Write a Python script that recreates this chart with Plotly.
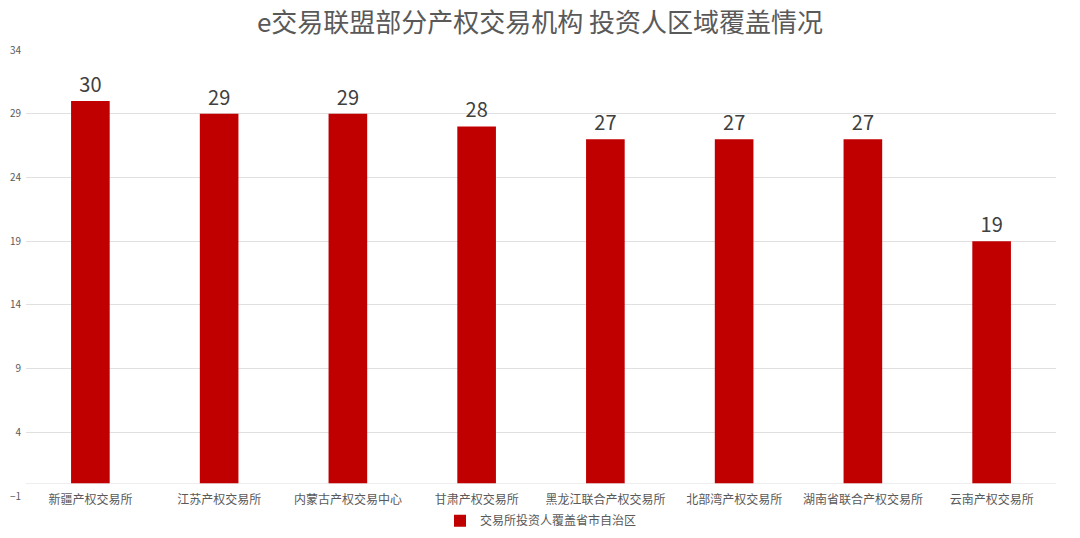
import plotly.graph_objects as go

categories = ["新疆产权交易所", "江苏产权交易所", "内蒙古产权交易中心", "甘肃产权交易所",
              "黑龙江联合产权交易所", "北部湾产权交易所", "湖南省联合产权交易所", "云南产权交易所"]
values = [30, 29, 29, 28, 27, 27, 27, 19]
series_name = "交易所投资人覆盖省市自治区"
tick_vals = [-1, 4, 9, 14, 19, 24, 29, 34]
title_text = "e交易联盟部分产权交易机构 投资人区域覆盖情况"

font_cjk = "Noto Sans CJK SC, Noto Sans, sans-serif"

fig = go.Figure()
fig.add_trace(go.Bar(
    x=categories, y=values, name=series_name,
    marker=dict(color="#c00000", line=dict(width=0)),
    width=0.30,
    text=[str(v) for v in values], textposition="outside",
    textfont=dict(size=20, color="#404040", family=font_cjk),
    cliponaxis=False,
))

fig.update_layout(
    width=1080, height=538,
    paper_bgcolor="white", plot_bgcolor="white",
    margin=dict(l=26, r=24, t=50, b=42, autoexpand=False),
    title=dict(text=title_text, x=0.5, xanchor="center", y=0.958, yanchor="middle",
               font=dict(size=26, color="#595959", family=font_cjk)),
    showlegend=True,
    legend=dict(orientation="h", x=0.5, xanchor="center", yref="container",
                y=0.032, yanchor="middle", bgcolor="rgba(0,0,0,0)",
                font=dict(size=12, color="#595959", family=font_cjk),
                itemwidth=30),
    xaxis=dict(showgrid=False, showline=False, ticks="", automargin=False,
               ticklabelstandoff=-5,
               tickfont=dict(size=12, color="#595959", family=font_cjk)),
    yaxis=dict(range=[-1, 34], tickvals=tick_vals, showgrid=True, gridcolor="#e0e0e0",
               gridwidth=1, zeroline=True, zerolinecolor="#eeeeee", zerolinewidth=1,
               showline=False, ticks="", automargin=False, ticklabelstandoff=4,
               tickfont=dict(size=10, color="#595959", family=font_cjk)),
)

fig.write_html("out.html", config={"displayModeBar": False},
               post_script="document.body.style.margin='0';")
